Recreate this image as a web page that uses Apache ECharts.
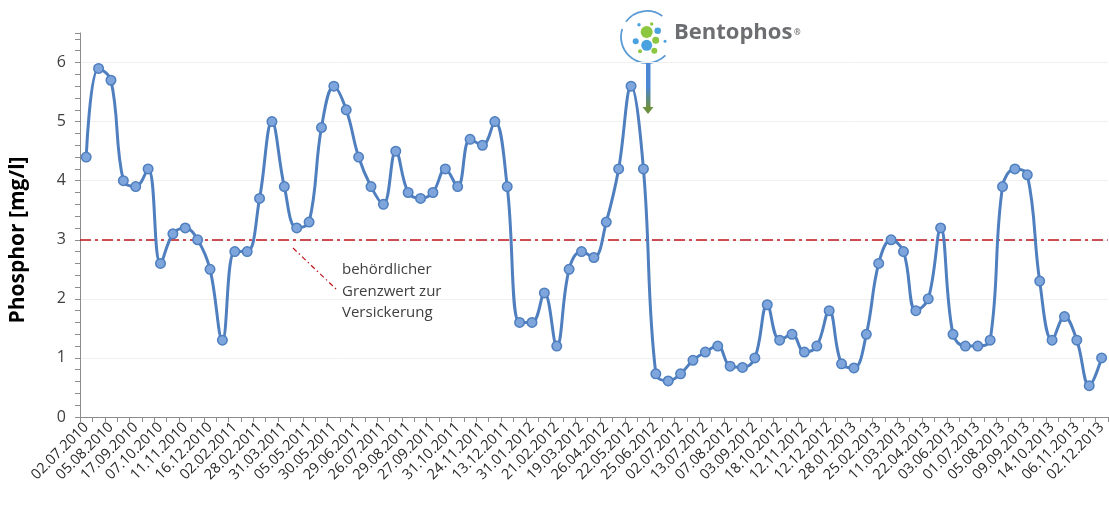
<!DOCTYPE html>
<html>
<head>
<meta charset="utf-8">
<title>Phosphor</title>
<script src="https://cdn.jsdelivr.net/npm/echarts@6/dist/echarts.min.js"></script>
<style>
	html, body { margin: 0; padding: 0; background: #fff; }
	#chart { width: 1109px; height: 505px; }
</style>
</head>
<body>
<div id="chart"></div>
<script>
// Datums-Beschriftungen (jede zweite Messung ist beschriftet)
const dateLabels = [
	"02.07.2010", "05.08.2010", "17.09.2010", "07.10.2010", "11.11.2010", "16.12.2010",
	"02.02.2011", "28.02.2011", "31.03.2011", "05.05.2011", "30.05.2011", "29.06.2011",
	"26.07.2011", "29.08.2011", "27.09.2011", "31.10.2011", "24.11.2011", "13.12.2011",
	"31.01.2012", "21.02.2012", "19.03.2012", "26.04.2012", "22.05.2012", "25.06.2012",
	"02.07.2012", "13.07.2012", "07.08.2012", "03.09.2012", "18.10.2012", "12.11.2012",
	"12.12.2012", "28.01.2013", "25.02.2013", "11.03.2013", "22.04.2013", "03.06.2013",
	"01.07.2013", "05.08.2013", "09.09.2013", "14.10.2013", "06.11.2013", "02.12.2013",
];

// Phosphor-Messwerte in mg/l
const phosphor = [
	4.4, 5.9, 5.7, 4.0, 3.9, 4.2, 2.6, 3.1, 3.2, 3.0,
	2.5, 1.3, 2.8, 2.8, 3.7, 5.0, 3.9, 3.2, 3.3, 4.9,
	5.6, 5.2, 4.4, 3.9, 3.6, 4.5, 3.8, 3.7, 3.8, 4.2,
	3.9, 4.7, 4.6, 5.0, 3.9, 1.6, 1.6, 2.1, 1.2, 2.5,
	2.8, 2.7, 3.3, 4.2, 5.6, 4.2, 0.73, 0.61, 0.73, 0.96,
	1.1, 1.2, 0.86, 0.84, 1.0, 1.9, 1.3, 1.4, 1.1, 1.2,
	1.8, 0.9, 0.83, 1.4, 2.6, 3.0, 2.8, 1.8, 2.0, 3.2,
	1.4, 1.2, 1.2, 1.3, 3.9, 4.2, 4.1, 2.3, 1.3, 1.7,
	1.3, 0.53, 1.0,
];

const grenzwert = 3; // behördlicher Grenzwert

const yTicks = [0, 1, 2, 3, 4, 5, 6];

const categories = phosphor.map((v, i) => String(i));

const chart = echarts.init(document.getElementById("chart"));

const blue = "#4aa3df";
const green = "#8dc63f";

chart.setOption({
	animation: false,
	textStyle: { fontFamily: "Open Sans" },
	grid: { left: 80, right: -3, top: 33, bottom: 88 },
	xAxis: {
		type: "category",
		data: categories,
		boundaryGap: true,
		axisLine: { lineStyle: { color: "#8c8c8c", width: 1 } },
		axisTick: { show: true, interval: 0, length: 5, lineStyle: { color: "#8c8c8c" } },
		axisLabel: {
			interval: 1,
			rotate: 45,
			margin: 8,
			fontSize: 14.5,
			color: "#262626",
			formatter: (v, i) => dateLabels[i / 2] || "",
		},
		splitLine: { show: false },
	},
	yAxis: {
		type: "value",
		min: 0,
		max: 6.5,
		interval: 1,
		axisLine: { show: true, lineStyle: { color: "#8c8c8c" } },
		axisTick: { show: true, length: 5, lineStyle: { color: "#8c8c8c" } },
		minorTick: { show: true, splitNumber: 5, length: 5, lineStyle: { color: "#8c8c8c" } },
		axisLabel: {
			fontSize: 16,
			color: "#404040",
			margin: 14,
			showMaxLabel: false,
			formatter: (v) => (yTicks.includes(v) ? String(v) : ""),
		},
		splitLine: { show: true, showMaxLine: false, lineStyle: { color: "#f0f0f0" } },
	},
	series: [
		{
			name: "Phosphor",
			type: "line",
			data: phosphor,
			smooth: 0.4,
			symbol: "circle",
			symbolSize: 9.5,
			showAllSymbol: true,
			lineStyle: { color: "#4f7fbf", width: 3 },
			itemStyle: { color: "#7ea6dc", borderColor: "#4f7fbf", borderWidth: 1.5 },
			z: 3,
			markLine: {
				silent: true,
				symbol: "none",
				label: { show: false },
				lineStyle: { color: "#c0141c", width: 1.6, type: [11, 4, 3, 4] },
				data: [{ yAxis: grenzwert }],
				z: 2,
			},
		},
	],
	graphic: [
		// Achsentitel
		{
			type: "text",
			x: 18,
			y: 240,
			rotation: Math.PI / 2,
			style: {
				text: "Phosphor [mg/l]",
				font: "bold 21px 'Open Sans'",
				fill: "#000",
				align: "center",
				verticalAlign: "middle",
			},
		},
		// Hinweis zum Grenzwert
		{
			type: "line",
			shape: { x1: 293, y1: 248, x2: 336, y2: 289 },
			style: { stroke: "#c0141c", lineWidth: 1.2, lineDash: [5, 3, 1.5, 3] },
		},
		{
			type: "text",
			left: 342,
			top: 259,
			style: {
				text: "behördlicher\nGrenzwert zur\nVersickerung",
				font: "15px 'Open Sans'",
				lineHeight: 21.5,
				fill: "#404040",
			},
		},
		// Bentophos-Logo
		{
			type: "arc",
			shape: { cx: 647, cy: 37, r: 26, startAngle: Math.PI * 1.2, endAngle: Math.PI * 1.7, clockwise: true },
			style: { stroke: "#5b9bd5", lineWidth: 1.8, fill: null },
		},
		{
			type: "arc",
			shape: { cx: 647, cy: 37, r: 26, startAngle: Math.PI * 0.25, endAngle: Math.PI * 1.1, clockwise: true },
			style: { stroke: "#5b9bd5", lineWidth: 1.8, fill: null },
		},
		{ type: "circle", shape: { cx: 646.7, cy: 32, r: 6 }, style: { fill: green } },
		{ type: "circle", shape: { cx: 646.7, cy: 45.3, r: 5.5 }, style: { fill: blue } },
		{ type: "circle", shape: { cx: 655.7, cy: 40.3, r: 3.5 }, style: { fill: green } },
		{ type: "circle", shape: { cx: 657.7, cy: 30.7, r: 3.3 }, style: { fill: blue } },
		{ type: "circle", shape: { cx: 635.7, cy: 41.3, r: 3 }, style: { fill: blue } },
		{ type: "circle", shape: { cx: 639, cy: 24.7, r: 1.7 }, style: { fill: blue } },
		{ type: "circle", shape: { cx: 651.7, cy: 24, r: 1.7 }, style: { fill: green } },
		{ type: "circle", shape: { cx: 640, cy: 51.3, r: 2 }, style: { fill: green } },
		{ type: "circle", shape: { cx: 654.3, cy: 50.7, r: 3 }, style: { fill: green } },
		{ type: "circle", shape: { cx: 665, cy: 41.3, r: 1.5 }, style: { fill: blue } },
		{
			type: "text",
			left: 674,
			top: 22,
			style: { text: "Bentophos", font: "bold 22px 'Open Sans'", fill: "#6d6e71" },
		},
		{
			type: "text",
			left: 794,
			top: 29,
			style: { text: "®", font: "bold 8px 'Open Sans'", fill: "#6d6e71" },
		},
		// Pfeil nach unten
		{
			type: "rect",
			shape: { x: 646, y: 62, width: 4.5, height: 46 },
			style: {
				fill: new echarts.graphic.LinearGradient(0, 0, 0, 1, [
					{ offset: 0, color: "#4d86d3" },
					{ offset: 0.55, color: "#4d86d3" },
					{ offset: 1, color: "#6b8f3c" },
				]),
			},
		},
		{
			type: "polygon",
			shape: { points: [[642.5, 107], [653.5, 107], [648, 114]] },
			style: { fill: "#6b8f3c" },
		},
	],
});
</script>
</body>
</html>
